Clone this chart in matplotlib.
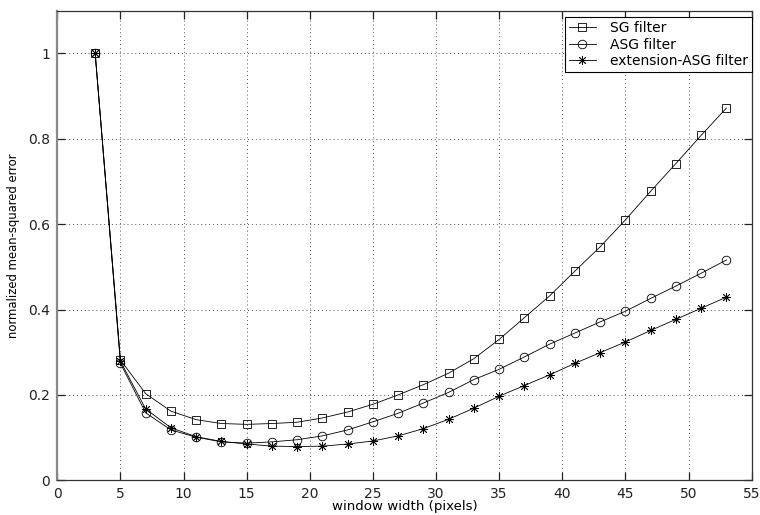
import matplotlib
matplotlib.use("Agg")
import matplotlib.pyplot as plt

# Window widths (pixels) and normalized MSE for each filter
window = [3, 5, 7, 9, 11, 13, 15, 17, 19, 21, 23, 25, 27, 29, 31, 33, 35,
          37, 39, 41, 43, 45, 47, 49, 51, 53]
sg_mse = [1.000, 0.282, 0.203, 0.162, 0.142, 0.133, 0.131, 0.133, 0.136,
          0.146, 0.160, 0.178, 0.200, 0.224, 0.251, 0.285, 0.330, 0.381,
          0.432, 0.490, 0.547, 0.610, 0.677, 0.742, 0.808, 0.872]
asg_mse = [1.000, 0.274, 0.158, 0.118, 0.101, 0.090, 0.087, 0.090, 0.095,
           0.104, 0.118, 0.137, 0.157, 0.181, 0.206, 0.236, 0.260, 0.289,
           0.319, 0.345, 0.371, 0.396, 0.426, 0.455, 0.485, 0.516]
ext_mse = [1.000, 0.279, 0.167, 0.123, 0.102, 0.091, 0.085, 0.080, 0.079,
           0.080, 0.085, 0.092, 0.104, 0.121, 0.143, 0.169, 0.197, 0.222,
           0.247, 0.274, 0.299, 0.324, 0.351, 0.377, 0.403, 0.429]

labels = ["SG filter", "ASG filter", "extension-ASG filter"]
xticks = [0, 5, 10, 15, 20, 25, 30, 35, 40, 45, 50, 55]
yticks = [0, 0.2, 0.4, 0.6, 0.8, 1.0]
yticklabels = ["0", "0.2", "0.4", "0.6", "0.8", "1"]

plt.rcParams["font.family"] = ["DejaVu Sans"]

fig = plt.figure(figsize=(7.6, 5.15), dpi=100)
fig.patch.set_facecolor("white")
ax = fig.add_axes([0.0754, 0.0674, 0.9136, 0.9118])

line_kw = dict(color="black", lw=0.6, mfc="none", mec="black", mew=0.6)
ax.plot(window, sg_mse, marker="s", ms=5.2, label=labels[0], **line_kw)
ax.plot(window, asg_mse, marker="o", ms=6.2, label=labels[1], **line_kw)
ax.plot(window, ext_mse, marker=(8, 2, 0), ms=6.5, label=labels[2], **line_kw)

ax.set_xlim(0, 55)
ax.set_ylim(0, 1.1)
ax.set_xticks(xticks)
ax.set_yticks(yticks)
ax.set_yticklabels(yticklabels)

ax.grid(True, linestyle=(0, (1, 3)), color="#555555", lw=0.7)
ax.tick_params(direction="in", length=6, width=0.9, top=True, right=True,
               labelsize=10, colors="#222222", pad=5)
ax.tick_params(axis="x", pad=5)
for s in ax.spines.values():
    s.set_color("#333333")
    s.set_linewidth(0.9)
ax.spines["left"].set_color("#888888")
ax.spines["left"].set_linewidth(1.6)

ax.set_xlabel("window width (pixels)", fontsize=9.6, labelpad=-1)
ax.set_ylabel("normalized mean-squared error", fontsize=8.4, labelpad=6)

leg = ax.legend(loc="upper right", bbox_to_anchor=(1.0, 1 - 6.6 / 469.6),
                borderaxespad=0, fontsize=10, frameon=True, fancybox=False,
                edgecolor="black", framealpha=1, handlelength=2.0,
                handletextpad=1.0, labelspacing=0.2, borderpad=0.25)
leg.get_frame().set_linewidth(0.8)

fig.savefig("out.png", dpi=100)
